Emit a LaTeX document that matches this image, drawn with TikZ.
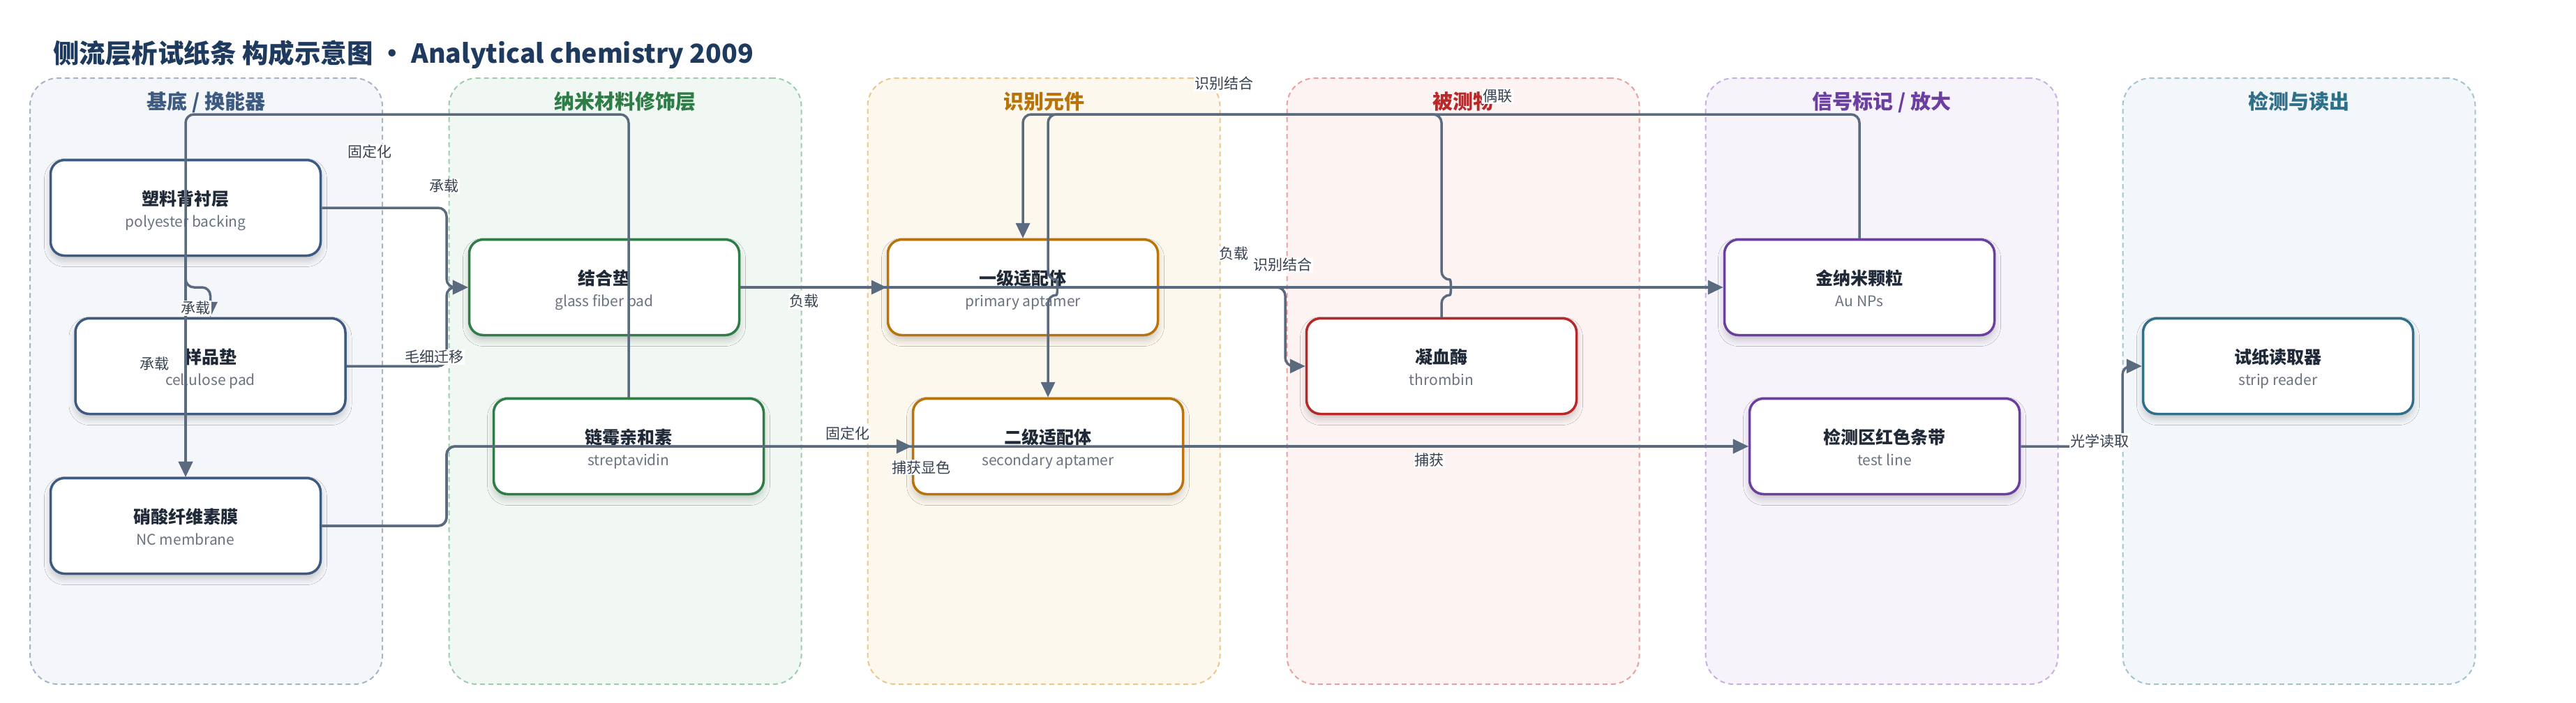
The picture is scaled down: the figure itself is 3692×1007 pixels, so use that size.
\documentclass[tikz,border=0pt]{standalone}
\usepackage{fontspec}
\setmainfont{Noto Sans CJK SC}
\usetikzlibrary{arrows.meta,shadows.blur}
\definecolor{edgec}{HTML}{5A6B80}
\definecolor{titlec}{HTML}{1E3A5F}
\definecolor{ttext}{HTML}{1F2937}
\definecolor{stext}{HTML}{6B7280}
\definecolor{ltext}{HTML}{374151}
\definecolor{fA}{HTML}{F4F6FA}\definecolor{bA}{HTML}{A7B3C9}\definecolor{cA}{HTML}{3D5A80}
\definecolor{fB}{HTML}{F1F8F3}\definecolor{bB}{HTML}{9FCCAE}\definecolor{cB}{HTML}{2E7D46}
\definecolor{fC}{HTML}{FDF8EE}\definecolor{bC}{HTML}{E9C88A}\definecolor{cC}{HTML}{B8730A}
\definecolor{fD}{HTML}{FDF3F3}\definecolor{bD}{HTML}{E8A0A0}\definecolor{cD}{HTML}{B82828}
\definecolor{fE}{HTML}{F7F3FB}\definecolor{bE}{HTML}{C9B0E2}\definecolor{cE}{HTML}{6B3FA0}
\definecolor{fF}{HTML}{F3F7F9}\definecolor{bF}{HTML}{A3C3CF}\definecolor{cF}{HTML}{2F6F8A}
\newcommand\mycard[6]{%
  \node[card, draw=#4] (#1) at (#2,#3) {};
  \node[ctitle] (#1t) at ([yshift=4pt]#1.center) {#5};
  \node[csub] (#1s) at ([yshift=-27pt]#1.center) {#6};
}
\begin{document}
\begin{tikzpicture}[x=1pt,y=-1pt,
  lanebox/.style={rectangle, rounded corners=40pt, dash pattern=on 7pt off 5pt, line width=2pt, minimum width=505pt, minimum height=869pt, inner sep=0pt},
  lanetitle/.style={font=\fontsize{29}{34}\selectfont\bfseries, anchor=base, inner sep=0pt},
  card/.style={rectangle, rounded corners=20pt, fill=white, line width=3.5pt, minimum width=387pt, minimum height=137pt, inner sep=0pt, blur shadow={shadow xshift=0pt, shadow yshift=-7pt, shadow blur radius=9pt, shadow opacity=20}},
  ctitle/.style={font=\fontsize{25}{30}\selectfont\bfseries, text=ttext, anchor=base, inner sep=0pt},
  csub/.style={font=\fontsize{21}{25}\selectfont, text=stext, anchor=base, inner sep=0pt},
  elabel/.style={font=\fontsize{21}{25}\selectfont, text=ltext, fill=white, inner sep=1.5pt},
  edge/.style={draw=edgec, line width=3.5pt, rounded corners=12pt, -{Triangle[length=22pt,width=20pt]}}
]
\useasboundingbox (0,0) rectangle (3692,1007);
% title
\node[anchor=base west, inner sep=0pt, font=\fontsize{37.5}{44}\selectfont\bfseries, text=titlec] (title) at (76,90) {侧流层析试纸条 构成示意图 · Analytical chemistry 2009};
% lanes
\node[lanebox, fill=fA, draw=bA] (laneA) at (295.5,546.5) {};
\node[lanebox, fill=fB, draw=bB] (laneB) at (896,546.5) {};
\node[lanebox, fill=fC, draw=bC] (laneC) at (1496,546.5) {};
\node[lanebox, fill=fD, draw=bD] (laneD) at (2097,546.5) {};
\node[lanebox, fill=fE, draw=bE] (laneE) at (2697,546.5) {};
\node[lanebox, fill=fF, draw=bF] (laneF) at (3295,546.5) {};
\node[lanetitle, text=cA] (laneAt) at (295.5,156) {基底 / 换能器};
\node[lanetitle, text=cB] (laneBt) at (896,156) {纳米材料修饰层};
\node[lanetitle, text=cC] (laneCt) at (1496,156) {识别元件};
\node[lanetitle, text=cD] (laneDt) at (2097,156) {被测物};
\node[lanetitle, text=cE] (laneEt) at (2697,156) {信号标记 / 放大};
\node[lanetitle, text=cF] (laneFt) at (3295,156) {检测与读出};
% cards
\mycard{bk}{266}{298}{cA}{塑料背衬层}{polyester backing}
\mycard{sp}{301.5}{525}{cA}{样品垫}{cellulose pad}
\mycard{nc}{266}{754}{cA}{硝酸纤维素膜}{NC membrane}
\mycard{gf}{866}{412}{cB}{结合垫}{glass fiber pad}
\mycard{stv}{901}{640}{cB}{链霉亲和素}{streptavidin}
\mycard{pa}{1466}{412}{cC}{一级适配体}{primary aptamer}
\mycard{sa}{1502}{640}{cC}{二级适配体}{secondary aptamer}
\mycard{th}{2066}{525}{cD}{凝血酶}{thrombin}
\mycard{au}{2665}{412}{cE}{金纳米颗粒}{Au NPs}
\mycard{tl}{2701}{640}{cE}{检测区红色条带}{test line}
\mycard{rd}{3265}{525}{cF}{试纸读取器}{strip reader}
% edges
\draw[edge] (bk.south) -- (266,412) -- (301.5,412) -- (sp.north);
\draw[edge] (bk.south) -- (nc.north);
\draw[edge] (stv.north) -- (901,164) -- (266,164) -- (nc.north);
\draw[edge] (bk.east) -- (640,298) -- (640,412) -- (gf.west);
\draw[edge] (sp.east) -- (640,525) -- (640,412) -- (gf.west);
\draw[edge] (gf.east) -- (pa.west);
\draw[edge] (gf.east) -- (au.west);
\draw[edge] (pa.east) -- (1842,412) -- (1842,525) -- (th.west);
\draw[edge] (th.north) -- (2066,423) .. controls (2080,423) and (2080,401) .. (2066,401) -- (2066,164) -- (1502,164) -- (1502,401) .. controls (1516,401) and (1516,423) .. (1502,423) -- (sa.north);
\draw[edge] (au.north) -- (2665,164) -- (1466,164) -- (pa.north);
\draw[edge] (nc.east) -- (640,754) -- (640,640) -- (sa.west);
\draw[edge] (nc.east) -- (640,754) -- (640,640) -- (tl.west);
\draw[edge] (sa.east) -- (tl.west);
\draw[edge] (tl.east) -- (3042,640) -- (3042,525) -- (rd.west);
% edge labels
\node[elabel] (l1) at (636,267) {承载};
\node[elabel] (l2) at (280,442) {承载};
\node[elabel] (l3) at (221,522) {承载};
\node[elabel] (l4) at (622,512) {毛细迁移};
\node[elabel] (l5) at (530,217) {固定化};
\node[elabel] (l6) at (1152,432) {负载};
\node[elabel] (l7) at (1768,364) {负载};
\node[elabel] (l8) at (1838,380) {识别结合};
\node[elabel] (l9) at (1754,120) {识别结合};
\node[elabel] (l10) at (2146,138) {偶联};
\node[elabel] (l11) at (1215,621) {固定化};
\node[elabel] (l12) at (1320,670) {捕获显色};
\node[elabel] (l13) at (2048,660) {捕获};
\node[elabel] (l14) at (3009,632) {光学读取};
\end{tikzpicture}
\end{document}
